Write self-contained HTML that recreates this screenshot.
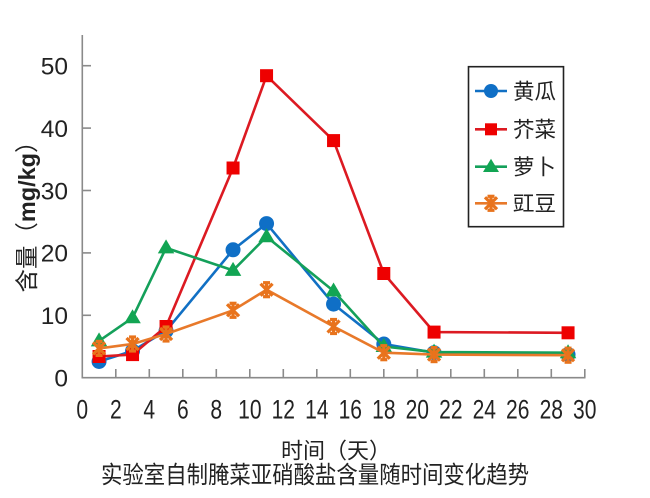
<!DOCTYPE html>
<html><head><meta charset="utf-8">
<style>
html,body{margin:0;padding:0;background:#fff;}
svg{display:block;}
text{font-family:"Liberation Sans","Noto Sans CJK SC",sans-serif;fill:#222;}
</style></head>
<body>
<svg width="650" height="498" viewBox="0 0 650 498" xmlns="http://www.w3.org/2000/svg">
<rect width="650" height="498" fill="#fff"/>
<!-- axes -->
<g stroke="#8a8a8a" stroke-width="1.6" fill="none">
<line x1="82.3" y1="35" x2="82.3" y2="378.5"/>
<line x1="81.5" y1="377.7" x2="585.5" y2="377.7"/>
<line x1="82.3" y1="315.3" x2="91" y2="315.3"/>
<line x1="82.3" y1="252.9" x2="91" y2="252.9"/>
<line x1="82.3" y1="190.5" x2="91" y2="190.5"/>
<line x1="82.3" y1="128.1" x2="91" y2="128.1"/>
<line x1="82.3" y1="65.7" x2="91" y2="65.7"/>
<line x1="115.8" y1="377.7" x2="115.8" y2="369"/>
<line x1="149.3" y1="377.7" x2="149.3" y2="369"/>
<line x1="182.8" y1="377.7" x2="182.8" y2="369"/>
<line x1="216.3" y1="377.7" x2="216.3" y2="369"/>
<line x1="249.8" y1="377.7" x2="249.8" y2="369"/>
<line x1="283.3" y1="377.7" x2="283.3" y2="369"/>
<line x1="316.8" y1="377.7" x2="316.8" y2="369"/>
<line x1="350.3" y1="377.7" x2="350.3" y2="369"/>
<line x1="383.8" y1="377.7" x2="383.8" y2="369"/>
<line x1="417.3" y1="377.7" x2="417.3" y2="369"/>
<line x1="450.8" y1="377.7" x2="450.8" y2="369"/>
<line x1="484.3" y1="377.7" x2="484.3" y2="369"/>
<line x1="517.8" y1="377.7" x2="517.8" y2="369"/>
<line x1="551.3" y1="377.7" x2="551.3" y2="369"/>
<line x1="584.8" y1="377.7" x2="584.8" y2="369"/>
</g>
<!-- y labels -->
<g font-size="24.5" text-anchor="end">
<text x="68" y="386.5">0</text>
<text x="68" y="324.1">10</text>
<text x="68" y="261.7">20</text>
<text x="68" y="199.3">30</text>
<text x="68" y="136.9">40</text>
<text x="68" y="74.5">50</text>
</g>
<!-- x labels (condensed) -->
<g font-size="27" text-anchor="middle" transform="scale(0.78,1)">
<text x="105.5" y="418.5">0</text>
<text x="148.5" y="418.5">2</text>
<text x="191.4" y="418.5">4</text>
<text x="234.4" y="418.5">6</text>
<text x="277.3" y="418.5">8</text>
<text x="320.3" y="418.5">10</text>
<text x="363.2" y="418.5">12</text>
<text x="406.2" y="418.5">14</text>
<text x="449.1" y="418.5">16</text>
<text x="492.1" y="418.5">18</text>
<text x="535" y="418.5">20</text>
<text x="578" y="418.5">22</text>
<text x="620.9" y="418.5">24</text>
<text x="663.8" y="418.5">26</text>
<text x="706.8" y="418.5">28</text>
<text x="749.7" y="418.5">30</text>
</g>
<!-- axis titles -->
<text x="27" y="219" font-size="23.5" text-anchor="middle" textLength="163" lengthAdjust="spacingAndGlyphs" transform="rotate(-90 27 211)">含量（<tspan font-weight="bold">mg/kg</tspan>）</text>
<text x="281" y="458.5" font-size="22">时间（天）</text>
<text x="101" y="483" font-size="24" textLength="428" lengthAdjust="spacingAndGlyphs">实验室自制腌菜亚硝酸盐含量随时间变化趋势</text>

<!-- 黄瓜 blue -->
<polyline fill="none" stroke="#1170c4" stroke-width="2.6" stroke-linejoin="round"
 points="99.05,361.5 132.55,350.9 166.05,330.9 233.05,249.8 266.55,223.6 333.55,304.1 383.8,344.0 434.05,352.7 568.05,354.6"/>
<g fill="#0f6fc6">
<circle cx="99.05" cy="361.5" r="7.5"/><circle cx="132.55" cy="350.9" r="7.5"/>
<circle cx="166.05" cy="330.9" r="7.5"/><circle cx="233.05" cy="249.8" r="7.5"/>
<circle cx="266.55" cy="223.6" r="7.5"/><circle cx="333.55" cy="304.1" r="7.5"/>
<circle cx="383.8" cy="344.0" r="7.5"/><circle cx="434.05" cy="352.7" r="7.5"/>
<circle cx="568.05" cy="354.6" r="7.5"/>
</g>
<!-- 芥菜 red -->
<polyline fill="none" stroke="#dc1a22" stroke-width="2.6" stroke-linejoin="round"
 points="99.05,356.5 132.55,354.6 166.05,326.5 233.05,168.0 266.55,75.7 333.55,140.6 383.8,273.5 434.05,332.1 568.05,332.8"/>
<g fill="#ee0000">
<rect x="92.55" y="350" width="13" height="13"/><rect x="126.05" y="348.1" width="13" height="13"/>
<rect x="159.55" y="320" width="13" height="13"/><rect x="226.55" y="161.5" width="13" height="13"/>
<rect x="260.05" y="69.2" width="13" height="13"/><rect x="327.05" y="134.1" width="13" height="13"/>
<rect x="377.3" y="267" width="13" height="13"/><rect x="427.55" y="325.6" width="13" height="13"/>
<rect x="561.55" y="326.3" width="13" height="13"/>
</g>
<!-- 萝卜 green -->
<polyline fill="none" stroke="#14a05a" stroke-width="2.6" stroke-linejoin="round"
 points="99.05,340.9 132.55,317.8 166.05,247.9 233.05,270.4 266.55,236.7 333.55,291.0 383.8,346.5 434.05,352.1 568.05,352.7"/>
<g fill="#12a553">
<polygon points="99.05,332.4 107.3,346.4 90.8,346.4"/>
<polygon points="132.55,309.3 140.8,323.3 124.3,323.3"/>
<polygon points="166.05,239.4 174.3,253.4 157.8,253.4"/>
<polygon points="233.05,261.9 241.3,275.9 224.8,275.9"/>
<polygon points="266.55,228.2 274.8,242.2 258.3,242.2"/>
<polygon points="333.55,282.5 341.8,296.5 325.3,296.5"/>
<polygon points="383.8,338 392.05,352 375.55,352"/>
<polygon points="434.05,343.6 442.3,357.6 425.8,357.6"/>
<polygon points="568.05,344.2 576.3,358.2 559.8,358.2"/>
</g>
<!-- 豇豆 orange -->
<polyline fill="none" stroke="#e8792a" stroke-width="2.6" stroke-linejoin="round"
 points="99.05,348.4 132.55,344.0 166.05,334.0 233.05,310.3 266.55,289.7 333.55,326.5 383.8,352.7 434.05,354.6 568.05,355.2"/>
<defs>
<g id="ast">
<line x1="-6" y1="-6" x2="6" y2="6"/>
<line x1="-6" y1="6" x2="6" y2="-6"/>
<line x1="0" y1="-8" x2="0" y2="8"/>
<line x1="-3.5" y1="-7" x2="3.5" y2="-7"/>
<line x1="-3.5" y1="7" x2="3.5" y2="7"/>
</g>
</defs>
<g stroke="#e8731c" stroke-width="3.2" fill="none">
<use href="#ast" x="99.05" y="348.4"/><use href="#ast" x="132.55" y="344.0"/>
<use href="#ast" x="166.05" y="334.0"/><use href="#ast" x="233.05" y="310.3"/>
<use href="#ast" x="266.55" y="289.7"/><use href="#ast" x="333.55" y="326.5"/>
<use href="#ast" x="383.8" y="352.7"/><use href="#ast" x="434.05" y="354.6"/>
<use href="#ast" x="568.05" y="355.2"/>
</g>

<!-- legend -->
<rect x="468.5" y="66.7" width="95" height="160" fill="#fff" stroke="#222" stroke-width="1.6"/>
<line x1="475" y1="91" x2="507" y2="91" stroke="#1170c4" stroke-width="2.6"/>
<circle cx="491" cy="91" r="7" fill="#0f6fc6"/>
<line x1="475" y1="129.3" x2="507" y2="129.3" stroke="#dc1a22" stroke-width="2.6"/>
<rect x="485" y="123.3" width="12" height="12" fill="#ee0000"/>
<line x1="475" y1="166.7" x2="507" y2="166.7" stroke="#14a05a" stroke-width="2.6"/>
<polygon points="491,158.7 499,172 483,172" fill="#12a553"/>
<line x1="475" y1="203.3" x2="507" y2="203.3" stroke="#e8792a" stroke-width="2.6"/>
<g stroke="#e8731c" stroke-width="3.2" fill="none"><use href="#ast" x="491" y="203.3"/></g>
<g font-size="21.5">
<text x="513" y="99">黄瓜</text>
<text x="513" y="137">芥菜</text>
<text x="513" y="174.5">萝卜</text>
<text x="513" y="211">豇豆</text>
</g>
</svg>
</body></html>
